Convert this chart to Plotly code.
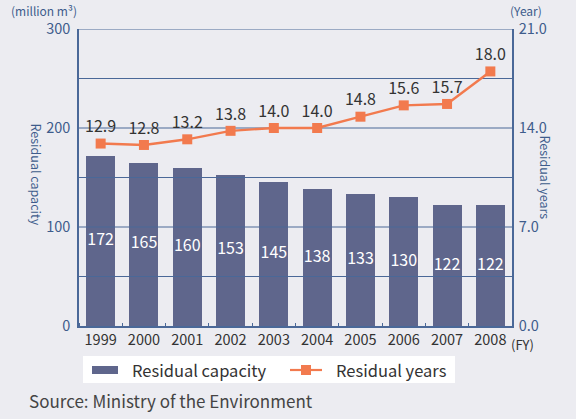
import plotly.graph_objects as go

# Landfill residual capacity and residual years by fiscal year
years = ["1999", "2000", "2001", "2002", "2003", "2004", "2005", "2006", "2007", "2008"]
capacity = [172, 165, 160, 153, 145, 138, 133, 130, 122, 122]          # million m3
residual_years = [12.9, 12.8, 13.2, 13.8, 14.0, 14.0, 14.8, 15.6, 15.7, 18.0]
grid_values = [50, 100, 150, 200, 250, 300]

FONT = "Noto Sans CJK JP, Noto Sans, sans-serif"
AXIS_BLUE = "#4A6898"
TICK_BLUE = "#3E5C8C"
BAR_COLOR = "#5F668C"
LINE_COLOR = "#F27A4E"
BG = "#ECECF1"

# plot-area geometry in pixels, used to place the hand-built legend
W, H = 576, 419
L, R, T, B = 79, 64, 29, 93
PW, PH = W - L - R, H - T - B


def px(x):
    return (x - L) / PW


def py(y):
    return (H - B - y) / PH


idx = list(range(len(years)))

fig = go.Figure()

fig.add_trace(go.Bar(
    x=idx, y=capacity, name="Residual capacity",
    marker=dict(color=BAR_COLOR, line=dict(width=0)),
    width=0.67, textposition="none",
    hoverinfo="skip", showlegend=False,
))

# Horizontal grid drawn over the bars but beneath the line series
gx, gy = [], []
for g in grid_values:
    gx += [-0.5, len(years) - 0.5, None]
    gy += [g, g, None]
fig.add_trace(go.Scatter(
    x=gx, y=gy, mode="lines", line=dict(color=AXIS_BLUE, width=1.2),
    showlegend=False, hoverinfo="skip",
))

# Capacity values printed at mid-height of each bar
fig.add_trace(go.Scatter(
    x=idx, y=[v / 2 for v in capacity], mode="text",
    text=[str(v) for v in capacity], textposition="middle center",
    textfont=dict(color="white", size=16, family=FONT),
    showlegend=False, hoverinfo="skip",
))

fig.add_trace(go.Scatter(
    x=idx, y=residual_years, name="Residual years", yaxis="y2",
    mode="lines+markers+text",
    line=dict(color=LINE_COLOR, width=2.4),
    marker=dict(symbol="square", size=10, color=LINE_COLOR),
    text=[f"{v:.1f}" for v in residual_years],
    textposition="top center",
    textfont=dict(color="#333333", size=16, family=FONT),
    hoverinfo="skip", showlegend=False,
))

fig.update_layout(
    width=W, height=H,
    margin=dict(l=L, r=R, t=T, b=B),
    paper_bgcolor=BG, plot_bgcolor=BG,
    font=dict(family=FONT, color=TICK_BLUE),
    bargap=0,
    showlegend=False,
    xaxis=dict(
        range=[-0.5, len(years) - 0.5],
        tickmode="array", tickvals=idx, ticktext=years,
        ticks="", showgrid=False, zeroline=False,
        showline=True, linecolor=AXIS_BLUE, linewidth=1.5,
        tickfont=dict(size=14.5, color="#333333"),
        minor=dict(tick0=0.5, dtick=1, ticks="inside", ticklen=3,
                   tickcolor=AXIS_BLUE, showgrid=False),
    ),
    yaxis=dict(
        range=[0, 300], dtick=100, showgrid=False, zeroline=False,
        showline=True, linecolor=AXIS_BLUE, linewidth=1.5,
        ticks="", ticklabelstandoff=4,
        tickfont=dict(size=14.5, color=TICK_BLUE),
    ),
    yaxis2=dict(
        range=[0, 21], dtick=7, tickformat=".1f",
        overlaying="y", side="right",
        showgrid=False, zeroline=False,
        showline=True, linecolor=AXIS_BLUE, linewidth=1.5,
        ticks="", ticklabelstandoff=2,
        tickfont=dict(size=14.5, color=TICK_BLUE),
    ),
)

# Legend: white box with a bar swatch and a line-with-marker swatch
shapes = [
    dict(type="rect", xref="paper", yref="paper",
         x0=px(83), x1=px(455), y0=py(383), y1=py(356),
         fillcolor="white", line=dict(width=0), layer="above"),
    dict(type="rect", xref="paper", yref="paper",
         x0=px(92), x1=px(118), y0=py(374), y1=py(366),
         fillcolor=BAR_COLOR, line=dict(width=0), layer="above"),
    dict(type="line", xref="paper", yref="paper",
         x0=px(290), x1=px(322), y0=py(370), y1=py(370),
         line=dict(color=LINE_COLOR, width=2.2), layer="above"),
    dict(type="rect", xref="paper", yref="paper",
         x0=px(301), x1=px(311), y0=py(375), y1=py(365),
         fillcolor=LINE_COLOR, line=dict(width=0), layer="above"),
]

annotations = [
    dict(text="(million m³)", x=0, y=1, xref="paper", yref="paper",
         xanchor="right", yanchor="middle", xshift=0, yshift=19,
         showarrow=False, font=dict(size=12, color=TICK_BLUE)),
    dict(text="(Year)", x=1, y=1, xref="paper", yref="paper",
         xanchor="left", yanchor="middle", xshift=-4, yshift=19,
         showarrow=False, font=dict(size=12, color=TICK_BLUE)),
    dict(text="Residual capacity", x=0, y=0.51, xref="paper", yref="paper",
         xanchor="center", yanchor="middle", xshift=-43, textangle=90,
         showarrow=False, font=dict(size=12.5, color=TICK_BLUE)),
    dict(text="Residual years", x=1, y=0.5, xref="paper", yref="paper",
         xanchor="center", yanchor="middle", xshift=33, textangle=90,
         showarrow=False, font=dict(size=12.5, color=TICK_BLUE)),
    dict(text="(FY)", x=1, y=0, xref="paper", yref="paper",
         xanchor="left", yanchor="middle", xshift=-3, yshift=-18,
         showarrow=False, font=dict(size=13, color="#333333")),
    dict(text="Residual capacity", x=px(130), y=py(370), xref="paper", yref="paper",
         xanchor="left", yanchor="middle", showarrow=False,
         font=dict(size=16.5, color="#333333")),
    dict(text="Residual years", x=px(334), y=py(370), xref="paper", yref="paper",
         xanchor="left", yanchor="middle", showarrow=False,
         font=dict(size=16.5, color="#333333")),
    dict(text="Source: Ministry of the Environment", x=px(27), y=py(400),
         xref="paper", yref="paper", xanchor="left", yanchor="middle",
         showarrow=False, font=dict(size=17, color="#444444")),
]
fig.update_layout(shapes=shapes, annotations=annotations)

fig.write_html("out.html")
